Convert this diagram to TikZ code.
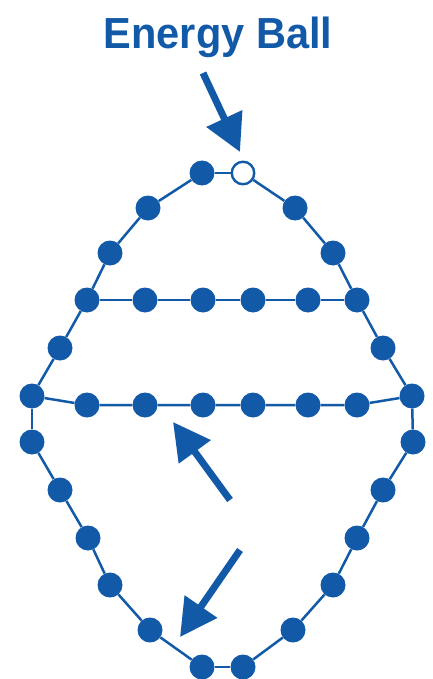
\documentclass[tikz,border=0pt]{standalone}
\usepackage{fontspec}
\setmainfont{Liberation Sans}
\usetikzlibrary{arrows.meta}
\definecolor{eblue}{RGB}{18,90,168}
\tikzset{
  ball/.style={circle,fill=eblue,draw=none,minimum size=25pt,inner sep=0pt},
  openball/.style={circle,fill=white,draw=eblue,line width=2.4pt,minimum size=22.5pt,inner sep=0pt},
  link/.style={draw=eblue,line width=2.5pt},
  bigarrow/.style={draw=eblue,line width=7pt,-{Triangle[length=37pt,width=38pt]},fill=eblue},
  title/.style={text=eblue,font=\bfseries\fontsize{43.5}{43.5}\selectfont,inner sep=0pt}
}
\begin{document}
\begin{tikzpicture}[x=1pt,y=-1pt]
\useasboundingbox (0,0) rectangle (433,679);
% title
\node[title,anchor=base] (t) at (218,49) {\scalebox{0.955}[1]{Energy Ball}};
% outer ring
\node[ball] (o1) at (202,173) {};
\node[openball] (o2) at (243,173) {};
\node[ball] (o3) at (295,208) {};
\node[ball] (o4) at (333,253) {};
\node[ball] (o5) at (357,300) {};
\node[ball] (o6) at (383,348) {};
\node[ball] (o7) at (412,396) {};
\node[ball] (o8) at (413,442) {};
\node[ball] (o9) at (383,490) {};
\node[ball] (o10) at (357,538) {};
\node[ball] (o11) at (333,585) {};
\node[ball] (o12) at (293,630) {};
\node[ball] (o13) at (243,667) {};
\node[ball] (o14) at (202,667) {};
\node[ball] (o15) at (150,630) {};
\node[ball] (o16) at (110,585) {};
\node[ball] (o17) at (88,538) {};
\node[ball] (o18) at (60,490) {};
\node[ball] (o19) at (32,442) {};
\node[ball] (o20) at (32,396) {};
\node[ball] (o21) at (60,348) {};
\node[ball] (o22) at (87,300) {};
\node[ball] (o23) at (110,253) {};
\node[ball] (o24) at (148,208) {};
% row 1
\node[ball] (a1) at (145,300) {};
\node[ball] (a2) at (203,300) {};
\node[ball] (a3) at (253,300) {};
\node[ball] (a4) at (308,300) {};
% row 2
\node[ball] (b1) at (87,405) {};
\node[ball] (b2) at (145,405) {};
\node[ball] (b3) at (203,405) {};
\node[ball] (b4) at (253,405) {};
\node[ball] (b5) at (308,405) {};
\node[ball] (b6) at (357,405) {};
% links
\foreach \i/\j in {1/2,2/3,3/4,4/5,5/6,6/7,7/8,8/9,9/10,10/11,11/12,12/13,13/14,14/15,15/16,16/17,17/18,18/19,19/20,20/21,21/22,22/23,23/24,24/1}
  \draw[link] (o\i) -- (o\j);
\draw[link] (o22) -- (a1) -- (a2) -- (a3) -- (a4) -- (o5);
\draw[link] (o20) -- (b1) -- (b2) -- (b3) -- (b4) -- (b5) -- (b6) -- (o7);
% arrows
\coordinate (p1s) at (203,73);
\coordinate (p1e) at (240,152);
\coordinate (p2s) at (230,500);
\coordinate (p2e) at (173,422);
\coordinate (p3s) at (240,550);
\coordinate (p3e) at (180,637);
\draw[bigarrow] (p1s) -- (p1e);
\draw[bigarrow] (p2s) -- (p2e);
\draw[bigarrow] (p3s) -- (p3e);
\end{tikzpicture}
\end{document}
